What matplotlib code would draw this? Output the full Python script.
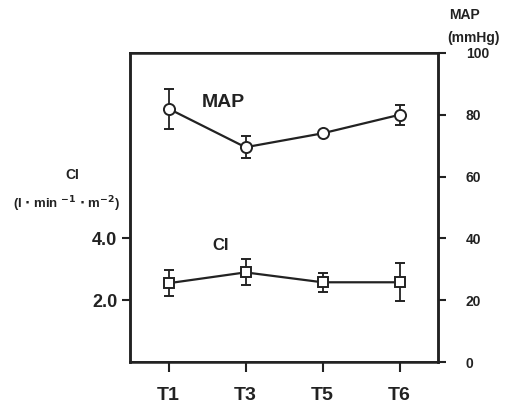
import numpy as np
import matplotlib.pyplot as plt

# datos
tiempos = ["T1", "T3", "T5", "T6"]
map_media = [82, 69.5, 74, 80]
map_sd = [6.5, 3.5, 0.8, 3.3]
ci_media = [2.55, 2.9, 2.58, 2.58]
ci_sd = [0.42, 0.42, 0.3, 0.62]

W, H = 516, 408
fig = plt.figure(figsize=(W / 100, H / 100), dpi=100)
plt.rcParams['font.family'] = ['Liberation Sans', 'DejaVu Sans']
plt.rcParams['font.weight'] = 'bold'
plt.rcParams['mathtext.default'] = 'bf'

# ejes en pixeles: izquierda 130, derecha 438, arriba 53, abajo 362
ax = fig.add_axes([130 / W, 1 - 362 / H, (438 - 130) / W, (362 - 53) / H])
ax2 = ax.twinx()

x = np.arange(len(tiempos))

ax.errorbar(x, ci_media, yerr=ci_sd, color="#222222", lw=1.6, marker="s",
            ms=7, mfc="white", mec="#222222", mew=1.4, capsize=3.5,
            elinewidth=1.3, capthick=1.5, zorder=3)
ax2.errorbar(x, map_media, yerr=map_sd, color="#222222", lw=1.6, marker="o",
             ms=8, mfc="white", mec="#222222", mew=1.4, capsize=3.5,
             elinewidth=1.3, capthick=1.5, zorder=3)

ax.set_xlim(-0.5, 3.5)
ax.set_ylim(0, 10)
ax2.set_ylim(0, 100)

ax.set_xticks(x)
ax.set_xticklabels(tiempos, fontsize=14, fontweight="bold", color="#222222")
ax.set_yticks([2, 4])
ax.set_yticklabels(["2.0", "4.0"], fontsize=13, fontweight="bold", color="#222222")
ax2.set_yticks([0, 20, 40, 60, 80, 100])
ax2.set_yticklabels(["0", "20", "40", "60", "80", "100"], fontsize=10,
                    fontweight="bold", color="#222222")

for a in (ax, ax2):
    for s in a.spines.values():
        s.set_linewidth(1.8)
        s.set_color("#222222")
ax.spines["bottom"].set_linewidth(1.4)
ax.spines["top"].set_linewidth(1.4)

ax.tick_params(axis="x", length=7, width=1.5, pad=11, color="#222222")
ax.tick_params(axis="y", length=6, width=1.5, pad=3, color="#222222")
ax2.tick_params(axis="y", length=6, width=1.5, pad=14, color="#222222")

# etiquetas dentro del grafico
ax2.text(0.71, 84, "MAP", fontsize=14, fontweight="bold", color="#222222",
         va="center", ha="center")
ax.text(0.68, 3.77, "CI", fontsize=12, fontweight="bold", color="#222222",
        va="center", ha="center")

# titulos de los ejes
fig.text(72 / W, 1 - 175 / H, "CI", fontsize=10, fontweight="bold",
         ha="center", va="center", color="#222222")
fig.text(67 / W, 1 - 204 / H, r"(l $\cdot$ min $^{-1}$ $\cdot$ m$^{-2}$)",
         fontsize=9.5, fontweight="bold", ha="center", va="center", color="#222222")
fig.text(464 / W, 1 - 15 / H, "MAP", fontsize=10, fontweight="bold",
         ha="center", va="center", color="#222222")
fig.text(474 / W, 1 - 38 / H, "(mmHg)", fontsize=10, fontweight="bold",
         ha="center", va="center", color="#222222")

plt.savefig("out.png", dpi=100)
